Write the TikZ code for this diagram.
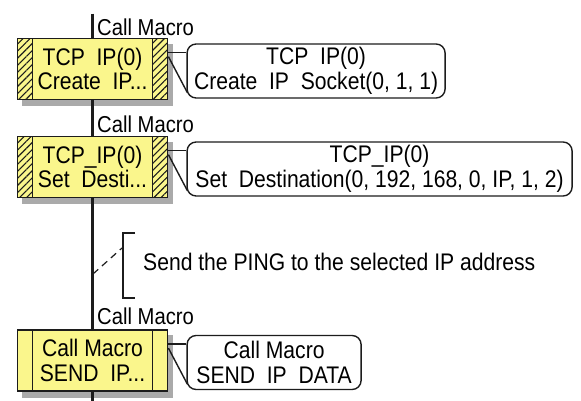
\documentclass[tikz,border=0pt]{standalone}
\usepackage{fontspec}
\setmainfont{Liberation Sans}[FakeStretch=0.88]
\usepackage{tikz}
\usetikzlibrary{positioning,calc,patterns.meta,backgrounds}
\definecolor{boxyellow}{RGB}{250,246,140}
\definecolor{ink}{RGB}{28,28,28}
\definecolor{boxshadow}{RGB}{170,170,170}
\newcommand{\flowfont}{\fontsize{24}{24.5}\selectfont}
\newcommand{\tagfont}{\fontsize{23}{24}\selectfont}
\tikzset{
	macro chart/.style={
		x=1pt, y=-1pt,
		flow/.style={draw=ink, line width=2.2pt},
		pointer/.style={draw=ink, line width=1.4pt},
		bracket/.style={draw=ink, line width=1.8pt},
		tag/.style={font=\tagfont, inner sep=0pt, anchor=base west}
		},
	bar width/.store in=\barwd,
	bar width=15pt,
	hatched/.style={pattern={Lines[angle=45,distance=5pt,line width=1.1pt]}, pattern color=ink},
	plain/.style={},
	macro box/.style={draw=ink, line width=1.8pt, fill=boxyellow,
		minimum width=150pt, minimum height=61pt, inner sep=0pt,
		align=center, font=\flowfont,
		path picture={
			\path[#1] (path picture bounding box.north west) rectangle ([xshift=\barwd]path picture bounding box.south west);
			\path[#1] (path picture bounding box.north east) rectangle ([xshift=-\barwd]path picture bounding box.south east);
			\draw[ink, line width=1.8pt]
				([xshift=\barwd]path picture bounding box.north west) -- ([xshift=\barwd]path picture bounding box.south west)
				([xshift=-\barwd]path picture bounding box.north east) -- ([xshift=-\barwd]path picture bounding box.south east);
		}},
	remark/.style={draw=ink, line width=1.4pt, fill=white, rounded corners=9pt,
		minimum height=54pt, inner xsep=6pt, align=center, font=\flowfont}
}

\begin{document}
\begin{tikzpicture}[macro chart]
	\useasboundingbox (0,0) rectangle (581,401);
	% macro steps
	\node[macro box=hatched] (create) at (92.5,69) {TCP\ \ IP(0)\\Create\ \ IP...};
	\node[macro box=hatched] (dest) at (92.5,167) {TCP\_IP(0)\\Set\ \ Desti...};
	\node[macro box=plain] (send) at (92.5,360.5) {Call Macro\\SEND\ \ IP...};
	\node[remark, minimum width=258pt, right=18pt of create, yshift=-2pt] (socket) {TCP\ \ IP(0)\\Create\ \ IP\ \ Socket(0, 1, 1)};
	\node[remark, minimum width=385pt, right=18pt of dest, yshift=-2pt] (target) {TCP\_IP(0)\\Set\ \ Destination(0, 192, 168, 0, IP, 1, 2)};
	\node[remark, minimum width=174pt, right=18pt of send, yshift=-2pt] (data) {Call Macro\\SEND\ \ IP\ \ DATA};
	\node[tag] (tag1) at ([shift={(4.5pt,2.5pt)}]create.north) {Call Macro};
	\node[tag] (tag2) at ([shift={(4.5pt,3.5pt)}]dest.north) {Call Macro};
	\node[tag] (tag3) at ([shift={(4.5pt,4.5pt)}]send.north) {Call Macro};
	% flow line
	\coordinate (top) at ([yshift=24pt]create.north);
	\coordinate (bottom) at ([yshift=-11pt]send.south);
	\draw[flow] (top) -- (create.north) (create.south) -- (dest.north)
		(dest.south) -- (send.north) (send.south) -- (bottom);
	\foreach \b/\c in {create/socket, dest/target, send/data} {
		\coordinate (\b-h) at ([yshift=-15pt]\b.north east);
		\draw[pointer] (\b-h) -- (\b-h -| \c.west);
		\draw[pointer] ([yshift=-19pt]\b.north east) -- ([shift={(1pt,6pt)}]\c.south west);
	}
	% comment
	\node[font=\flowfont, inner sep=0pt, anchor=base west] (note) at (143,270) {Send the PING to the selected IP address};
	\coordinate (brtop) at (135,233);
	\coordinate (brbot) at (135,298);
	\draw[bracket] (brtop) -| ([xshift=-12pt]brbot) -- (brbot);
	\coordinate (tap) at (93,274);
	\coordinate (kink) at (122,248);
	\draw[ink, line width=1.2pt, dash pattern=on 7pt off 5pt] (tap) -- (kink);
	% shadows
	\begin{pgfonlayer}{background}
		\fill[white] (0,0) rectangle (581,401);
		\foreach \b in {create,dest,send}
			\fill[boxshadow] ($(\b.north west)+(5,6)$) rectangle ($(\b.south east)+(5,6)$);
	\end{pgfonlayer}
\end{tikzpicture}
\end{document}
